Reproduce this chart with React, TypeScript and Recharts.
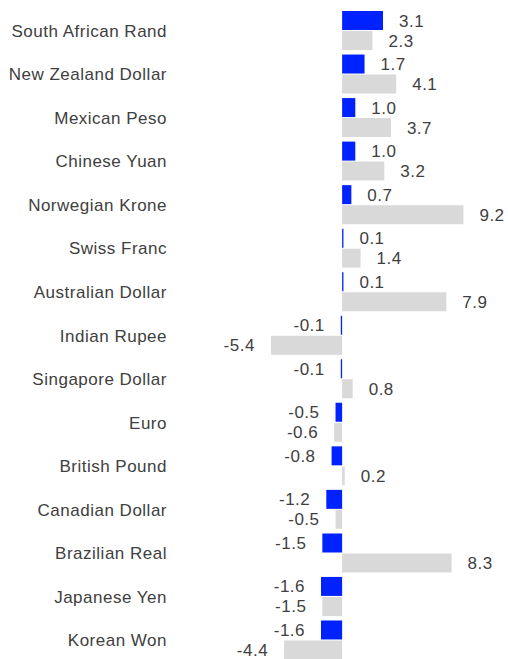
import React from 'react';
import { BarChart, Bar, XAxis, YAxis, LabelList } from 'recharts';

const currencies = [
  'South African Rand',
  'New Zealand Dollar',
  'Mexican Peso',
  'Chinese Yuan',
  'Norwegian Krone',
  'Swiss Franc',
  'Australian Dollar',
  'Indian Rupee',
  'Singapore Dollar',
  'Euro',
  'British Pound',
  'Canadian Dollar',
  'Brazilian Real',
  'Japanese Yen',
  'Korean Won',
];
const recent = [3.1, 1.7, 1.0, 1.0, 0.7, 0.1, 0.1, -0.1, -0.1, -0.5, -0.8, -1.2, -1.5, -1.6, -1.6];
const ytd = [2.3, 4.1, 3.7, 3.2, 9.2, 1.4, 7.9, -5.4, 0.8, -0.6, 0.2, -0.5, 8.3, -1.5, -4.4];

const data = currencies.map((name, i) => ({ name, recent: recent[i], ytd: ytd[i] }));

const FONT = '"Liberation Sans", Arial, sans-serif';
const TEXT = '#404040';
const fmt = (v: any) => Number(v).toFixed(1);

export default function App() {
  return (
    <div style={{ position: 'absolute', top: 0, left: 0, width: 508, height: 659, overflow: 'hidden', background: '#fff' }}>
      <BarChart
        width={508}
        height={662}
        data={data}
        layout="vertical"
        margin={{ top: 9, right: 34, bottom: 0, left: 0 }}
        barSize={19}
        barGap={1}
      >
        <XAxis type="number" domain={[-6, 10]} hide />
        <YAxis
          type="category"
          dataKey="name"
          width={263}
          axisLine={false}
          tickLine={false}
          tickSize={0}
          tickMargin={96}
          interval={0}
          tick={{ fill: TEXT, fontSize: 17, fontFamily: FONT, letterSpacing: 0.5 }}
        />
        <Bar dataKey="recent" fill="#0022FF" isAnimationActive={false}>
          <LabelList dataKey="recent" position="right" offset={16} formatter={fmt} fill={TEXT} fontSize={17} fontFamily={FONT} letterSpacing={0.5} />
        </Bar>
        <Bar dataKey="ytd" fill="#D9D9D9" isAnimationActive={false}>
          <LabelList dataKey="ytd" position="right" offset={16} formatter={fmt} fill={TEXT} fontSize={17} fontFamily={FONT} letterSpacing={0.5} />
        </Bar>
      </BarChart>
    </div>
  );
}
